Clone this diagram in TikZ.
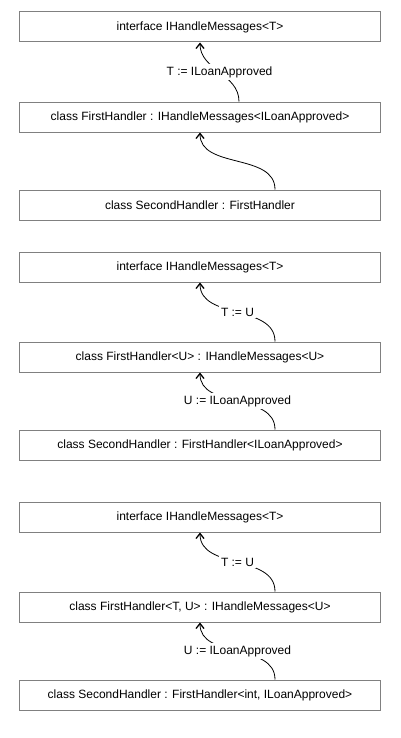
\documentclass[tikz,border=0pt]{standalone}
\usepackage{fontspec}
\setmainfont{Liberation Sans}
\usepackage{tikz}
\usetikzlibrary{arrows.meta}
\tikzset{
  classbox/.style={draw=gray, line width=1bp, minimum width=360bp, minimum height=30bp, inner sep=0pt, font=\fontsize{12bp}{14bp}\selectfont},
  subst/.style={fill=white, inner sep=2bp, font=\fontsize{12bp}{14bp}\selectfont},
  inherit/.style={line width=0.8bp, -{Straight Barb[length=5bp,width=8bp,line width=1.3bp]}}
}
\newcommand{\classbox}[3]{\node[classbox] (#1) at (200, #2) {#3};}
\newcommand{\inheritarrow}[4]{\draw[inherit] ([xshift=#3 bp]#1.north) to[out=90,in=-90] #4 (#2.south);}

\begin{document}
\begin{tikzpicture}[x=1bp,y=1bp]
        \useasboundingbox (0,0) rectangle (400,-738);

        \classbox{ihA}{-27}{interface IHandleMessages<T>}
        \classbox{fhA}{-117}{class FirstHandler : IHandleMessages<ILoanApproved>}
        \classbox{shA}{-205}{class SecondHandler : FirstHandler}
        \inheritarrow{fhA}{ihA}{39}{node[subst] {T := ILoanApproved}}
        \inheritarrow{shA}{fhA}{75}{}

        \classbox{ihB}{-267}{interface IHandleMessages<T>}
        \classbox{fhB}{-357}{class FirstHandler<U> : IHandleMessages<U>}
        \classbox{shB}{-445}{class SecondHandler : FirstHandler<ILoanApproved>}
        \inheritarrow{fhB}{ihB}{75}{node[subst] {T := U}}
        \inheritarrow{shB}{fhB}{75}{node[subst] {U := ILoanApproved}}

        \classbox{ihC}{-517}{interface IHandleMessages<T>}
        \classbox{fhC}{-607}{class FirstHandler<T, U> : IHandleMessages<U>}
        \classbox{shC}{-695}{class SecondHandler : FirstHandler<int, ILoanApproved>}
        \inheritarrow{fhC}{ihC}{75}{node[subst] {T := U}}
        \inheritarrow{shC}{fhC}{75}{node[subst] {U := ILoanApproved}}
    \end{tikzpicture}
\end{document}
